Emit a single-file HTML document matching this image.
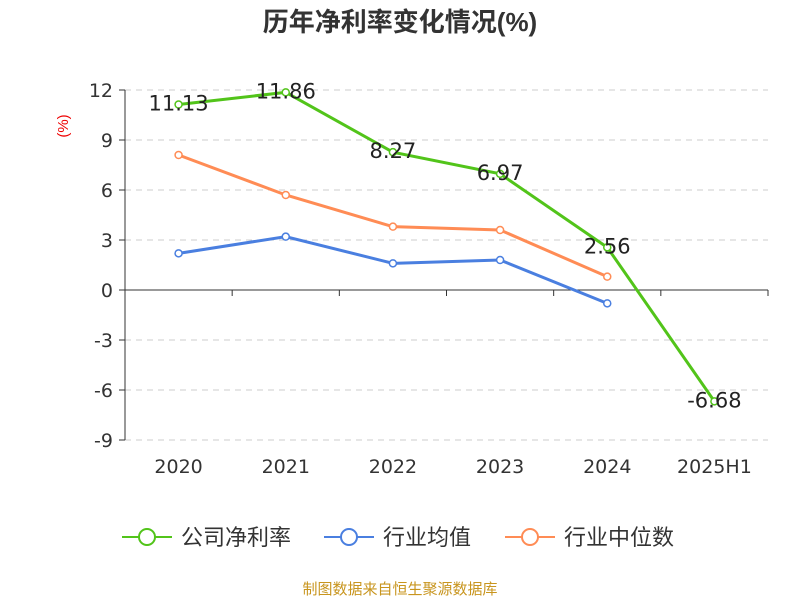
<!DOCTYPE html>
<html><head><meta charset="utf-8"><style>
body{margin:0;background:#fff;font-family:"Liberation Sans","Noto Sans CJK SC",sans-serif}
</style></head><body>
<svg width="800" height="600" id="c" font-family="Liberation Sans, Noto Sans CJK SC, sans-serif">
<text x="400" y="31" text-anchor="middle" font-size="26" font-weight="bold" fill="#333">历年净利率变化情况(%)</text>
<text x="68" y="126" font-size="15" fill="#e00" transform="rotate(-90 68 126)" text-anchor="middle">(%)</text>
<g id="grid"></g><g id="series"></g>
<g font-size="22" fill="#333">
<g><line x1="122" y1="537" x2="172" y2="537" stroke="#52c41a" stroke-width="2"/><circle cx="147" cy="537" r="8" fill="#fff" stroke="#52c41a" stroke-width="2"/><text x="181" y="545">公司净利率</text></g>
<g><line x1="324" y1="537" x2="374" y2="537" stroke="#4a7fe0" stroke-width="2"/><circle cx="349" cy="537" r="8" fill="#fff" stroke="#4a7fe0" stroke-width="2"/><text x="383" y="545">行业均值</text></g>
<g><line x1="505" y1="537" x2="555" y2="537" stroke="#ff8c55" stroke-width="2"/><circle cx="530" cy="537" r="8" fill="#fff" stroke="#ff8c55" stroke-width="2"/><text x="564" y="545">行业中位数</text></g>
</g>
<text x="400" y="594" text-anchor="middle" font-size="15" fill="#c8951e">制图数据来自恒生聚源数据库</text>
</svg>
<script>
const categories=["2020","2021","2022","2023","2024","2025H1"];
const companyValues=[11.13,11.86,8.27,6.97,2.56,-6.68];
const industryAvg=[2.2,3.2,1.6,1.8,-0.8];
const industryMedian=[8.1,5.7,3.8,3.6,0.8];
const yTicks=[12,9,6,3,0,-3,-6,-9];
const NS="http://www.w3.org/2000/svg";
const L=125,R=768,T=90,B=440,yMax=12,yMin=-9;
const bw=(R-L)/categories.length;
const x=i=>L+bw*(i+0.5);
const y=v=>T+(yMax-v)/(yMax-yMin)*(B-T);
function mk(t,a,p){const e=document.createElementNS(NS,t);for(const k in a)e.setAttribute(k,a[k]);p.appendChild(e);return e;}
const g=document.getElementById('grid'),s=document.getElementById('series');
yTicks.forEach(v=>{
 if(v!==0){const ln=mk('line',{x1:L,x2:R,y1:y(v),y2:y(v),stroke:'#ccc','stroke-dasharray':'6,5'},g);
 
 }
 const tk=mk('line',{x1:L-6,x2:L,y1:y(v),y2:y(v),stroke:'#333'},g);
 
 
 const t=mk('text',{x:L-12,y:y(v)+7,'text-anchor':'end','font-size':19,fill:'#333','font-family':'DejaVu Sans, sans-serif'},g);t.textContent=v;
 
 
});
const ya=mk('line',{x1:L,x2:L,y1:T,y2:B,stroke:'#333'},g);


const xa=mk('line',{x1:L,x2:R,y1:y(0),y2:y(0),stroke:'#333'},g);


for(let i=0;i<=categories.length;i++){const tk=mk('line',{x1:L+bw*i,x2:L+bw*i,y1:y(0),y2:y(0)+6,stroke:'#333'},g);
 
 }
categories.forEach((c,i)=>{const t=mk('text',{x:x(i),y:473,'text-anchor':'middle','font-size':19,fill:'#333','font-family':'DejaVu Sans, sans-serif'},g);t.textContent=c;
 
 });
function line(vals,color,name,labels){
 const p=mk('polyline',{points:vals.map((v,i)=>x(i)+','+y(v)).join(' '),fill:'none',stroke:color,'stroke-width':3},s);
 
 
 vals.forEach((v,i)=>{const c=mk('circle',{cx:x(i),cy:y(v),r:3.5,fill:'#fff',stroke:color,'stroke-width':1.5},s);
  
  
  if(labels){const t=mk('text',{x:x(i),y:y(v)+6,'text-anchor':'middle','font-size':21,fill:'#222','font-family':'DejaVu Sans, sans-serif'},s);t.textContent=v.toFixed(2);
  
  }
 });
}
line(industryAvg,'#4a7fe0','industry-average',false);
line(industryMedian,'#ff8c55','industry-median',false);
line(companyValues,'#52c41a','company',true);
</script>
</body></html>
